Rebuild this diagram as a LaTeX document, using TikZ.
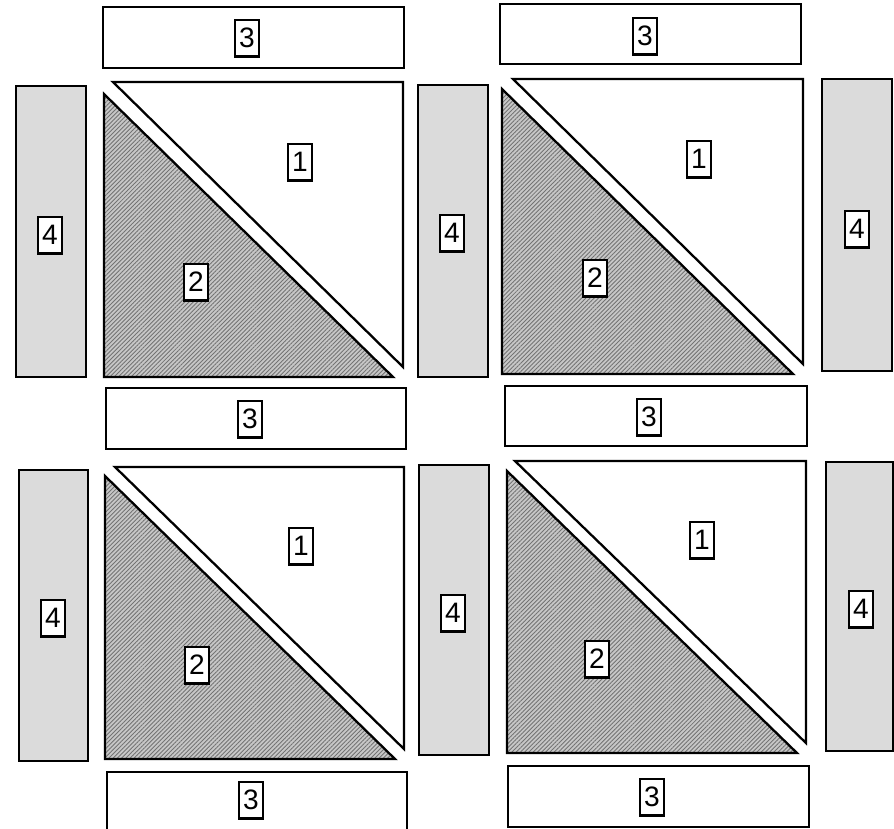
\documentclass[tikz,border=0pt]{standalone}
\usepackage{fontspec}
\setmainfont{Liberation Sans}
\usetikzlibrary{patterns.meta}

\begin{document}
\begin{tikzpicture}[x=0.02cm,y=-0.02cm,
  piece/.style={draw=black,line width=1.3pt,line join=miter},
  band/.style={piece,fill=black!14},
  lowhalf/.style={piece,pattern={Lines[angle=45,distance=1.7pt,line width=0.5pt]},pattern color=black!55,preaction={fill=black!22}},
  tag/.style={draw=black,line width=1.2pt,fill=white,minimum width=14pt,minimum height=21pt,inner sep=0pt,font=\fontsize{16}{18}\selectfont}]
\useasboundingbox[fill=white] (0,0) rectangle (894,829);
% strips 3
\draw[piece] (103,7) rectangle (404,68);
\node[tag] (ta3) at (247,38) {3};
\draw[piece] (500,4) rectangle (801,64);
\node[tag] (tb3) at (645,36) {3};
\draw[piece] (106,388) rectangle (406,449);
\node[tag] (ma3) at (250,419) {3};
\draw[piece] (505,386) rectangle (807,446);
\node[tag] (mb3) at (649,417) {3};
\draw[piece] (107,772) rectangle (407,834);
\node[tag] (ba3) at (251,800) {3};
\draw[piece] (508,766) rectangle (809,827);
\node[tag] (bb3) at (652,797) {3};
% strips 4
\draw[band] (16,86) rectangle (86,377);
\node[tag] (ua4) at (50,235) {4};
\draw[band] (418,85) rectangle (488,377);
\node[tag] (ub4) at (452,233) {4};
\draw[band] (822,79) rectangle (892,371);
\node[tag] (uc4) at (857,229) {4};
\draw[band] (19,470) rectangle (88,761);
\node[tag] (la4) at (53,618) {4};
\draw[band] (419,465) rectangle (489,755);
\node[tag] (lb4) at (453,613) {4};
\draw[band] (826,462) rectangle (893,751);
\node[tag] (lc4) at (861,609) {4};
% squares of two triangles
\draw[piece,fill=white] (113,82) -- (403,82) -- (403,367) -- cycle;
\draw[lowhalf] (104,94) -- (104,377) -- (393,377) -- cycle;
\node[tag] (qa1) at (300,162) {1};
\node[tag] (qa2) at (196,282) {2};
\draw[piece,fill=white] (513,79) -- (803,79) -- (803,364) -- cycle;
\draw[lowhalf] (502,89) -- (502,374) -- (793,374) -- cycle;
\node[tag] (qb1) at (699,159) {1};
\node[tag] (qb2) at (595,278) {2};
\draw[piece,fill=white] (115,467) -- (404,467) -- (404,749) -- cycle;
\draw[lowhalf] (105,476) -- (105,759) -- (395,759) -- cycle;
\node[tag] (qc1) at (301,546) {1};
\node[tag] (qc2) at (197,665) {2};
\draw[piece,fill=white] (515,461) -- (806,461) -- (806,743) -- cycle;
\draw[lowhalf] (507,471) -- (507,753) -- (797,753) -- cycle;
\node[tag] (qd1) at (702,540) {1};
\node[tag] (qd2) at (597,659) {2};
\end{tikzpicture}
\end{document}
